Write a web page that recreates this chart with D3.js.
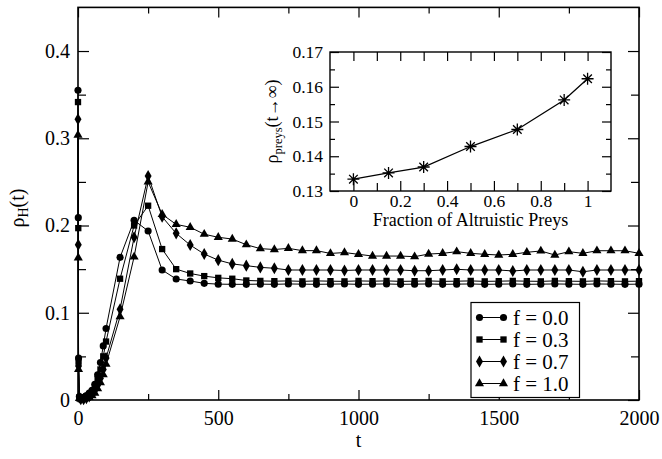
<!DOCTYPE html>
<html><head><meta charset="utf-8">
<script src="https://cdn.jsdelivr.net/npm/d3@7"></script>
</head><body style="margin:0;background:#fff">
<svg id="c" width="662" height="459"></svg>
<script>
// ---- data ----
const times = [0,1,2,5,10,20,30,40,50,60,70,80,90,100,150,200,250,
  300,350,400,450,500,550,600,650,700,750,800,850,900,950,1000,1050,1100,
  1150,1200,1250,1300,1350,1400,1450,1500,1550,1600,1650,1700,1750,1800,1850,1900,1950,2000];
const rhoF00 = [.355,.209,.048,.004,.002,.003,.005,.008,.011,.018,.029,.043,.062,.082,.1635,.206,.1937,
  .149,.1387,.1364,.1337,.1328,.1326,.1326,.1328,.1326,.1330,.1328,.1326,.1328,.1330,.1326,.1328,.1330,
  .1326,.1328,.1330,.1326,.1328,.1330,.1326,.1328,.1330,.1326,.1328,.1330,.1328,.1326,.1330,.1328,.1326,.1328];
const rhoF03 = [.3415,.197,.044,.003,.001,.002,.004,.006,.009,.015,.024,.035,.050,.067,.139,.200,.2227,
  .173,.150,.145,.142,.140,.139,.137,.1365,.1362,.1365,.1360,.1365,.1362,.1360,.1365,.1362,.1365,
  .1360,.1362,.1365,.1360,.1362,.1365,.1360,.1362,.1365,.1362,.1360,.1365,.1362,.1360,.1365,.1362,.1360,.1362];
const rhoF07 = [.3217,.178,.039,.003,.001,.001,.002,.004,.007,.011,.017,.025,.035,.048,.104,.1865,.2567,
  .210,.191,.1776,.1673,.1603,.156,.154,.152,.151,.149,.149,.149,.149,.1485,.149,.149,.149,
  .149,.1482,.1482,.149,.1498,.149,.149,.149,.1479,.149,.149,.149,.149,.147,.149,.149,.149,.149];
const rhoF10 = [.3037,.163,.035,.002,.001,.001,.002,.003,.005,.008,.013,.020,.029,.041,.0955,.164,.250,
  .2128,.2013,.198,.190,.1865,.1845,.178,.1735,.1725,.1738,.1712,.1712,.168,.169,.167,.165,.165,
  .165,.1643,.1673,.1681,.170,.1681,.167,.1662,.167,.1693,.1708,.1662,.170,.1681,.1711,.1711,.1711,.1681];
const seriesLabels = ["f = 0.0","f = 0.3","f = 0.7","f = 1.0"];
const xTickValues = [0,500,1000,1500,2000];
const xMinorValues = [250,750,1250,1750];
const yTickValues = [0,0.1,0.2,0.3,0.4];
const yMinorValues = [0.05,0.15,0.25,0.35];

const insetFraction = [0,0.15,0.3,0.5,0.7,0.9,1.0];
const insetRho = [0.1334,0.1352,0.1369,0.1428,0.1477,0.1562,0.1623];
const insetXTickValues = [0,0.2,0.4,0.6,0.8,1];
const insetXMinorValues = [0.1,0.3,0.5,0.7,0.9];
const insetYTickValues = [0.13,0.14,0.15,0.16,0.17];
const insetYMinorValues = [0.135,0.145,0.155,0.165];

// ---- drawing ----
const FONT = '"Liberation Serif"';
const svg = d3.select("#c");
svg.append("rect").attr("width",662).attr("height",459).attr("fill","#fff");

const x = d3.scaleLinear().domain([0,2000]).range([78,639]);
const y = d3.scaleLinear().domain([0,0.45]).range([400,7.4]);

function styleAxis(g, fs){
  g.attr("font-family",null).attr("font-size",null);
  g.select(".domain").remove();
  g.selectAll("line").attr("stroke","#000").attr("stroke-width",1.2);
  g.selectAll("text").style("font-family",FONT).style("font-size",fs+"px").attr("fill","#000");
}
function addAxis(axis, tx, ty, fs){
  const g = svg.append("g").attr("transform",`translate(${tx},${ty})`).call(axis);
  styleAxis(g, fs);
  return g;
}
const fmtY = d => d===0 ? "0" : d3.format(".1f")(d);
// main axes
addAxis(d3.axisBottom(x).tickValues(xTickValues).tickSize(-10).tickPadding(11).tickFormat(d3.format("d")),0,400,20);
addAxis(d3.axisBottom(x).tickValues(xMinorValues).tickSize(-6).tickFormat(""),0,400,20);
addAxis(d3.axisTop(x).tickValues(xTickValues).tickSize(-10).tickFormat(""),0,7.4,20);
addAxis(d3.axisTop(x).tickValues(xMinorValues).tickSize(-6).tickFormat(""),0,7.4,20);
addAxis(d3.axisLeft(y).tickValues(yTickValues).tickSize(-11).tickPadding(8).tickFormat(fmtY),78,0,20);
addAxis(d3.axisLeft(y).tickValues(yMinorValues).tickSize(-8).tickFormat(""),78,0,20);
addAxis(d3.axisRight(y).tickValues(yTickValues).tickSize(-11).tickFormat(""),639,0,20);
addAxis(d3.axisRight(y).tickValues(yMinorValues).tickSize(-8).tickFormat(""),639,0,20);

svg.append("rect").attr("x",x(0)).attr("y",y(0.45)).attr("width",x(2000)-x(0)).attr("height",y(0)-y(0.45))
  .attr("fill","none").attr("stroke","#000").attr("stroke-width",1.6);

// series
const seriesValues = [rhoF00, rhoF03, rhoF07, rhoF10];
const symTypes = [d3.symbolCircle, d3.symbolSquare, d3.symbolDiamond, d3.symbolTriangle];
const symSizes = [40, 40, 42, 36];
const line = d3.line().x(d=>x(d[0])).y(d=>y(d[1]));
const gSeries = svg.append("g");
seriesValues.forEach((vals,i)=>{
  const pts = times.map((t,j)=>[t,vals[j]]);
  gSeries.append("path").attr("d",line(pts)).attr("fill","none").attr("stroke","#000").attr("stroke-width",1);
});
seriesValues.forEach((vals,i)=>{
  const sym = d3.symbol().type(symTypes[i]).size(symSizes[i]);
  gSeries.selectAll(null).data(times.map((t,j)=>[t,vals[j]])).enter().append("path")
    .attr("transform",d=>`translate(${x(d[0])},${y(d[1])})`).attr("d",sym()).attr("fill","#000");
});

// axis titles
svg.append("text").attr("x",x(1000)).attr("y",447).attr("text-anchor","middle")
  .style("font-family",FONT).style("font-size","20px").text("t");
const yt = svg.append("text").attr("transform","translate(24,208) rotate(-90)").attr("text-anchor","middle")
  .style("font-family",FONT).style("font-size","20px");
yt.append("tspan").text("ρ");
yt.append("tspan").style("font-size","14px").attr("dy",4).text("H");
yt.append("tspan").attr("dy",-4).text("(t)");

// legend
const lg = svg.append("g");
lg.append("rect").attr("x",471).attr("y",302.5).attr("width",108.5).attr("height",95)
  .attr("fill","#fff").attr("stroke","#000").attr("stroke-width",1.2);
seriesLabels.forEach((lab,i)=>{
  const ly = 317.5 + i*22;
  lg.append("line").attr("x1",479.5).attr("x2",503.5).attr("y1",ly).attr("y2",ly).attr("stroke","#000").attr("stroke-width",1);
  const sym = d3.symbol().type(symTypes[i]).size(symSizes[i]);
  [479.5,503.5].forEach(px=>lg.append("path").attr("transform",`translate(${px},${ly})`).attr("d",sym()).attr("fill","#000"));
  lg.append("text").attr("x",513).attr("y",ly+7).style("font-family",FONT).style("font-size","21px").text(lab);
});

// ---- inset ----
const xi = d3.scaleLinear().domain([-0.1,1.1]).range([330,611]);
const yi = d3.scaleLinear().domain([0.13,0.17]).range([191,52]);
svg.append("rect").attr("x",xi(-0.1)).attr("y",yi(0.17)).attr("width",xi(1.1)-xi(-0.1)).attr("height",yi(0.13)-yi(0.17))
  .attr("fill","#fff").attr("stroke","none");
addAxis(d3.axisBottom(xi).tickValues(insetXTickValues).tickSize(-10).tickPadding(4).tickFormat(d=>d===0||d===1?String(d):d3.format(".1f")(d)),0,191,17.5);
addAxis(d3.axisBottom(xi).tickValues(insetXMinorValues).tickSize(-8).tickFormat(""),0,191,17);
addAxis(d3.axisTop(xi).tickValues(insetXTickValues.concat(insetXMinorValues)).tickSize(-9).tickFormat(""),0,52,17);
addAxis(d3.axisLeft(yi).tickValues(insetYTickValues).tickSize(-9).tickPadding(7).tickFormat(d3.format(".2f")),330,0,17.5);
addAxis(d3.axisLeft(yi).tickValues(insetYMinorValues).tickSize(-5).tickFormat(""),330,0,17);
addAxis(d3.axisRight(yi).tickValues(insetYTickValues).tickSize(-9).tickFormat(""),611,0,17);
addAxis(d3.axisRight(yi).tickValues(insetYMinorValues).tickSize(-5).tickFormat(""),611,0,17);
svg.append("rect").attr("x",xi(-0.1)).attr("y",yi(0.17)).attr("width",xi(1.1)-xi(-0.1)).attr("height",yi(0.13)-yi(0.17))
  .attr("fill","none").attr("stroke","#000").attr("stroke-width",1.4);

const insetPts = insetFraction.map((f,j)=>[f,insetRho[j]]);
svg.append("path").attr("d",d3.line().x(d=>xi(d[0])).y(d=>yi(d[1]))(insetPts))
  .attr("fill","none").attr("stroke","#000").attr("stroke-width",1.3);
const star = "M0,-6V6M-6,0H6M-4.3,-4.3L4.3,4.3M-4.3,4.3L4.3,-4.3";
svg.append("g").selectAll("path").data(insetPts).enter().append("path")
  .attr("transform",d=>`translate(${xi(d[0])},${yi(d[1])})`).attr("d",star)
  .attr("stroke","#000").attr("stroke-width",1.3).attr("fill","none");

svg.append("text").attr("x",(xi(-0.1)+xi(1.1))/2).attr("y",226).attr("text-anchor","middle")
  .style("font-family",FONT).style("font-size","18px").text("Fraction of Altruistic Preys");
const yit = svg.append("text").attr("transform",`translate(278,${(yi(0.13)+yi(0.17))/2}) rotate(-90)`).attr("text-anchor","middle")
  .style("font-family",FONT).style("font-size","18px");
yit.append("tspan").text("ρ");
yit.append("tspan").style("font-size","12.5px").attr("dy",4).text("preys");
yit.append("tspan").attr("dy",-4).text("(t→∞)");
</script>
</body></html>
